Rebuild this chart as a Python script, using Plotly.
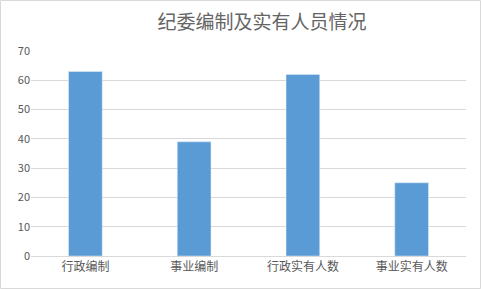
import plotly.graph_objects as go

categories = ["行政编制", "事业编制", "行政实有人数", "事业实有人数"]
values = [63, 39, 62, 25]
title_text = "纪委编制及实有人员情况"

W, H = 481, 289
ml, mr, mt, mb = 31, 15, 51, 33
pw, ph = W - ml - mr, H - mt - mb

fig = go.Figure(go.Bar(x=categories, y=values, marker_color="#5b9bd5", width=0.31))

fig.update_layout(
    width=W, height=H,
    margin=dict(l=ml, r=mr, t=mt, b=mb),
    paper_bgcolor="white", plot_bgcolor="white",
    font=dict(family="Noto Sans CJK SC", color="#595959", size=11),
    title=dict(text=title_text, x=262 / W, xanchor="center", y=1 - 22 / H, yanchor="middle",
               font=dict(size=19, color="#656565", family="Noto Sans CJK SC")),
    showlegend=False,
    shapes=[dict(type="rect", xref="paper", yref="paper",
                 x0=(0.5 - ml) / pw, x1=(W - 0.5 - ml) / pw,
                 y0=-(mb - 0.5) / ph, y1=(H - mb - 0.5) / ph,
                 line=dict(color="#d9d9d9", width=1), layer="below")],
)
fig.update_yaxes(range=[0, 70], dtick=10, showgrid=True, gridcolor="#d9d9d9", gridwidth=1,
                 zeroline=False, showline=False, ticks="", tickfont=dict(size=11, color="#595959"))
fig.update_xaxes(showline=True, linecolor="#d9d9d9", ticks="", tickfont=dict(size=12, color="#595959"))

fig.write_html("out.html")
